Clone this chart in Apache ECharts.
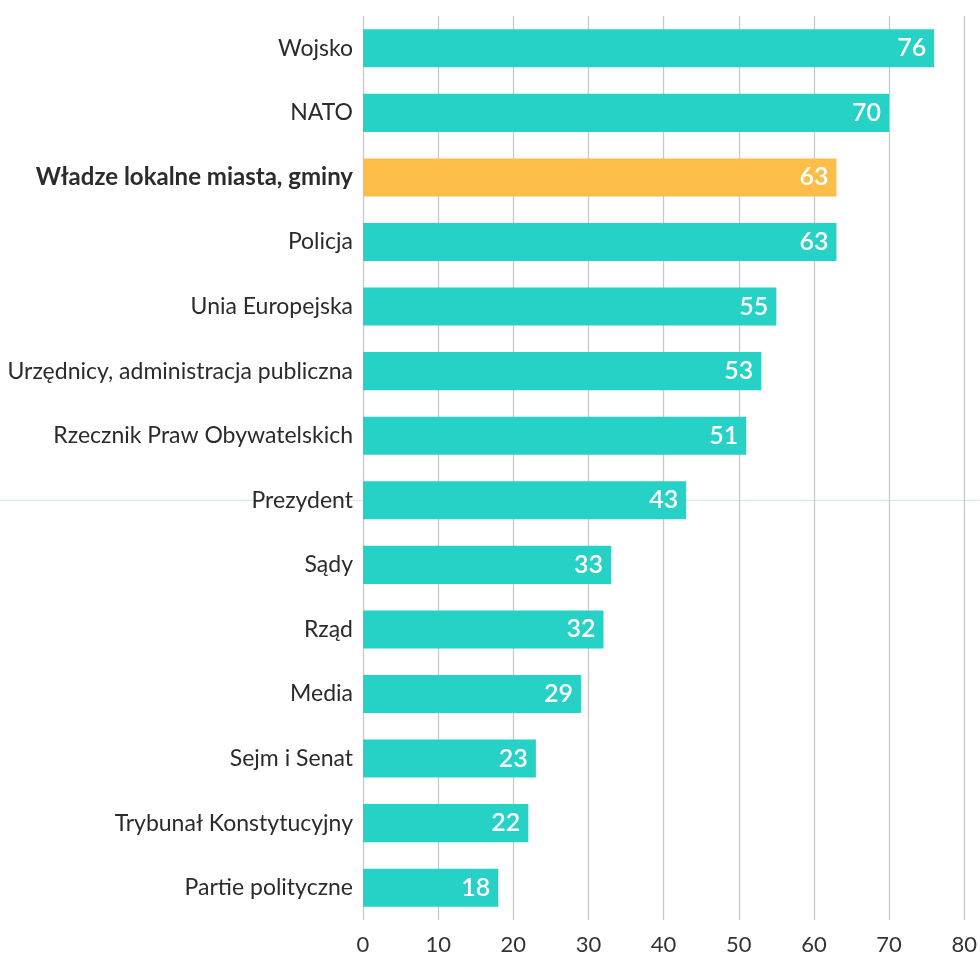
<!DOCTYPE html>
<html>
<head>
<meta charset="utf-8">
<script src="https://cdn.jsdelivr.net/npm/echarts@6/dist/echarts.min.js"></script>
<style>
  html, body { margin: 0; padding: 0; background: #fff; }
  #chart { width: 980px; height: 956px; }
</style>
</head>
<body>
<div id="chart"></div>
<script>
// categories, top to bottom as in the picture
const categories = [
  'Wojsko', 'NATO', 'Władze lokalne miasta, gminy', 'Policja', 'Unia Europejska',
  'Urzędnicy, administracja publiczna', 'Rzecznik Praw Obywatelskich', 'Prezydent',
  'Sądy', 'Rząd', 'Media', 'Sejm i Senat', 'Trybunał Konstytucyjny', 'Partie polityczne'
];
const values = [76, 70, 63, 63, 55, 53, 51, 43, 33, 32, 29, 23, 22, 18];
const highlighted = 'Władze lokalne miasta, gminy';
const xTicks = [0, 10, 20, 30, 40, 50, 60, 70, 80];

const TEAL = '#26d1c5';
const ORANGE = '#fdbe49';
const FONT = 'Lato, "Open Sans", sans-serif';

const chart = echarts.init(document.getElementById('chart'));

const barData = values.map((v, i) => ({
  value: v,
  itemStyle: { color: categories[i] === highlighted ? ORANGE : TEAL }
}));

chart.setOption({
  animation: false,
  grid: { left: 363, right: 15, top: 16, bottom: 35, containLabel: false },
  xAxis: {
    type: 'value',
    min: xTicks[0],
    max: xTicks[xTicks.length - 1],
    interval: 10,
    axisLine: { show: false },
    axisTick: { show: false },
    splitLine: { show: true, lineStyle: { color: '#c9c9c9', width: 1.3 } },
    axisLabel: { color: '#333', fontSize: 22, fontFamily: FONT, margin: 14 }
  },
  yAxis: {
    type: 'category',
    inverse: true,
    data: categories,
    axisLine: { show: false },
    axisTick: { show: false },
    axisLabel: {
      margin: 10,
      fontSize: 23,
      fontFamily: FONT,
      color: '#2b2b2b',
      formatter: v => v === highlighted ? '{b|' + v + '}' : v,
      rich: { b: { fontSize: 24, fontWeight: 'bold', fontFamily: FONT, color: '#2b2b2b' } }
    }
  },
  series: [{
    type: 'bar',
    data: barData,
    barWidth: '59%',
    label: {
      show: true,
      position: 'insideRight',
      distance: 8,
      color: '#fff',
      fontSize: 25,
      fontWeight: 600,
      fontFamily: FONT
    }
  }]
});

// thin light line crossing the chart at the "Prezydent" row, as in the reference
const yLine = chart.convertToPixel({ yAxisIndex: 0 }, 'Prezydent');
chart.setOption({
  graphic: [{
    type: 'line',
    z: -1,
    shape: { x1: 0, y1: yLine, x2: 980, y2: yLine },
    style: { stroke: '#cfe9e8', lineWidth: 1 }
  }]
});
</script>
</body>
</html>
